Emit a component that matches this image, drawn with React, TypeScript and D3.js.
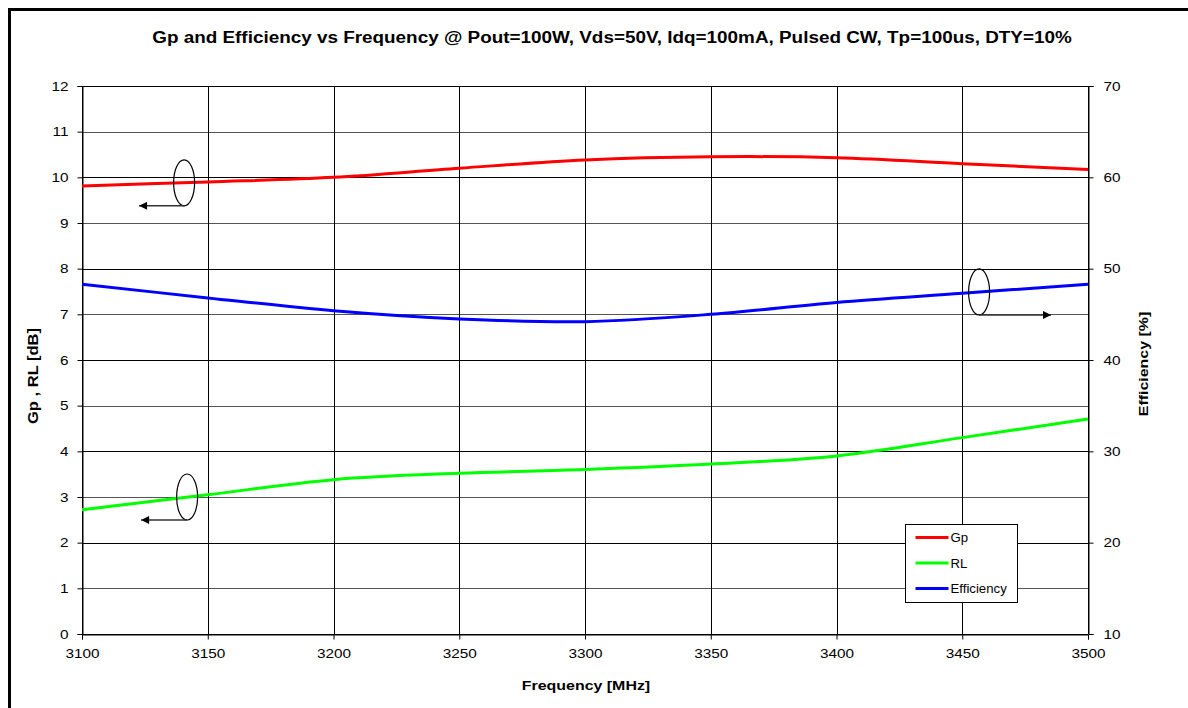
import React, { useEffect, useRef } from "react";
import * as d3 from "d3";

const freqs = [3100, 3150, 3200, 3250, 3300, 3350, 3400, 3450, 3500];
const gpValues = [9.81, 9.9, 10.0, 10.2, 10.38, 10.45, 10.43, 10.3, 10.17];
const rlValues = [2.72, 3.05, 3.38, 3.52, 3.6, 3.72, 3.9, 4.3, 4.71];
const effValues = [48.3, 46.8, 45.4, 44.5, 44.2, 45.0, 46.3, 47.3, 48.3];

const xTicks = [3100, 3150, 3200, 3250, 3300, 3350, 3400, 3450, 3500];
const leftTicks = [0, 1, 2, 3, 4, 5, 6, 7, 8, 9, 10, 11, 12];
const rightTicks = [10, 20, 30, 40, 50, 60, 70];

const legendItems = [
  { name: "Gp", color: "#ff0000" },
  { name: "RL", color: "#00ff00" },
  { name: "Efficiency", color: "#0000ff" },
];

// ellipse markers pointing to the axis each curve uses
const markers = [
  { f: 3140.6, v: 9.88, axis: "left", tip: 3122.7 },
  { f: 3141.8, v: 3.0, axis: "left", tip: 3123.5 },
  { f: 3456.7, v: 47.45, axis: "right", tip: 3485.3 },
];

const W = 1188;
const H = 708;
const FONT = "'Liberation Sans', Arial, sans-serif";
const STRETCH = 1.18; // the source image text is wider than plain Arial

export default function App() {
  const ref = useRef<SVGSVGElement | null>(null);

  useEffect(() => {
    if (!ref.current) return;
    const svg = d3.select(ref.current);
    svg.selectAll("*").remove();

    const left = 82;
    const right = 1088;
    const top = 86;
    const bottom = 634;

    const x = d3.scaleLinear().domain([3100, 3500]).range([left, right]);
    const yL = d3.scaleLinear().domain([0, 12]).range([bottom, top]);
    const yR = d3.scaleLinear().domain([10, 70]).range([bottom, top]);

    svg.append("rect").attr("width", W).attr("height", H).attr("fill", "#fff");

    // outer frame
    svg
      .append("rect")
      .attr("x", 9.5)
      .attr("y", 9.5)
      .attr("width", 1300)
      .attr("height", 800)
      .attr("fill", "none")
      .attr("stroke", "#000")
      .attr("stroke-width", 3);

    svg
      .append("text")
      .attr("x", 612)
      .attr("y", 43)
      .attr("text-anchor", "middle")
      .attr("font-family", FONT)
      .attr("font-weight", "bold")
      .attr("font-size", 16)
      .text("Gp and Efficiency vs Frequency @ Pout=100W, Vds=50V, Idq=100mA, Pulsed CW, Tp=100us, DTY=10%");

    const grid = svg.append("g").attr("shape-rendering", "crispEdges");
    leftTicks.forEach((t) => {
      grid
        .append("line")
        .attr("x1", left)
        .attr("x2", right)
        .attr("y1", Math.round(yL(t)) + 0.5)
        .attr("y2", Math.round(yL(t)) + 0.5)
        .attr("stroke", t % 2 === 0 ? "#000" : "#555")
        .attr("stroke-width", 1);
    });
    xTicks.forEach((t) => {
      grid
        .append("line")
        .attr("x1", Math.round(x(t)) + 0.5)
        .attr("x2", Math.round(x(t)) + 0.5)
        .attr("y1", top)
        .attr("y2", bottom)
        .attr("stroke", "#000")
        .attr("stroke-width", 1);
    });

    // axes
    const axL = d3.axisLeft(yL).tickValues(leftTicks).tickSize(5).tickPadding(9);
    const axR = d3.axisRight(yR).tickValues(rightTicks).tickSize(5).tickPadding(10);
    const axB = d3.axisBottom(x).tickValues(xTicks).tickSize(5).tickPadding(9).tickFormat(d3.format("d"));

    const styleAxis = (g: d3.Selection<SVGGElement, unknown, null, undefined>) => {
      g.attr("font-family", FONT).attr("font-size", 13);
      g.selectAll("path").attr("stroke", "#000");
      g.selectAll("line").attr("stroke", "#000");
      g.selectAll("text").attr("fill", "#000");
    };

    svg.append("g").attr("transform", `translate(${left + 0.5},0)`).call(axL).call(styleAxis);
    svg.append("g").attr("transform", `translate(${right + 0.5},0)`).call(axR).call(styleAxis);
    svg.append("g").attr("transform", `translate(0,${bottom + 0.5})`).call(axB).call(styleAxis);

    // axis titles
    svg
      .append("text")
      .attr("x", 586)
      .attr("y", 690)
      .attr("text-anchor", "middle")
      .attr("font-family", FONT)
      .attr("font-weight", "bold")
      .attr("font-size", 13.5)
      .text("Frequency [MHz]");
    svg
      .append("text")
      .attr("transform", `translate(38,376) rotate(-90)`)
      .attr("text-anchor", "middle")
      .attr("font-family", FONT)
      .attr("font-weight", "bold")
      .attr("font-size", 14)
      .text("Gp , RL [dB]");
    svg
      .append("text")
      .attr("transform", `translate(1148,364) rotate(-90)`)
      .attr("text-anchor", "middle")
      .attr("font-family", FONT)
      .attr("font-weight", "bold")
      .attr("font-size", 13.5)
      .text("Efficiency [%]");

    // curves
    const mk = (vals: number[], y: d3.ScaleLinear<number, number>) =>
      d3
        .line<number>()
        .x((_, i) => x(freqs[i]))
        .y((d) => y(d))
        .curve(d3.curveCatmullRom.alpha(0.5))(vals);

    const series = [
      { vals: gpValues, y: yL, color: "#ff0000" },
      { vals: rlValues, y: yL, color: "#00ff00" },
      { vals: effValues, y: yR, color: "#0000ff" },
    ];
    series.forEach((s) => {
      svg
        .append("path")
        .attr("d", mk(s.vals, s.y))
        .attr("fill", "none")
        .attr("stroke", s.color)
        .attr("stroke-width", 3);
    });

    // markers
    const defs = svg.append("defs");
    defs
      .append("marker")
      .attr("id", "arr")
      .attr("viewBox", "0 0 10 10")
      .attr("refX", 10)
      .attr("refY", 5)
      .attr("markerWidth", 10)
      .attr("markerHeight", 8)
      .attr("markerUnits", "userSpaceOnUse")
      .attr("orient", "auto")
      .append("path")
      .attr("d", "M0,0 L10,5 L0,10 Z")
      .attr("fill", "#000");

    markers.forEach((m) => {
      const y = m.axis === "left" ? yL : yR;
      const cx = x(m.f);
      const cy = y(m.v);
      const ry = 23;
      svg
        .append("ellipse")
        .attr("cx", cx)
        .attr("cy", cy)
        .attr("rx", 10.5)
        .attr("ry", ry)
        .attr("fill", "none")
        .attr("stroke", "#000")
        .attr("stroke-width", 1.2);
      svg
        .append("line")
        .attr("x1", cx)
        .attr("x2", x(m.tip))
        .attr("y1", cy + ry)
        .attr("y2", cy + ry)
        .attr("stroke", "#333")
        .attr("stroke-width", 1.5)
        .attr("marker-end", "url(#arr)");
    });

    // legend
    const lg = svg.append("g").attr("transform", "translate(905.5,524.5)");
    lg.append("rect")
      .attr("width", 112)
      .attr("height", 78)
      .attr("fill", "#fff")
      .attr("stroke", "#000")
      .attr("stroke-width", 1);
    legendItems.forEach((it, i) => {
      const yy = 13 + i * 25.5;
      lg.append("line")
        .attr("x1", 10)
        .attr("x2", 43)
        .attr("y1", yy)
        .attr("y2", yy)
        .attr("stroke", it.color)
        .attr("stroke-width", 3);
      lg.append("text")
        .attr("x", 45)
        .attr("y", yy + 4.5)
        .attr("data-k", 1.1)
        .attr("font-family", FONT)
        .attr("font-size", 12)
        .text(it.name);
    });

    // widen every text run to match the source
    svg.selectAll<SVGTextElement, unknown>("text").each(function () {
      const k = +(this.getAttribute("data-k") || STRETCH);
      const len = this.getComputedTextLength();
      if (len > 0) {
        this.setAttribute("textLength", String(len * k));
        this.setAttribute("lengthAdjust", "spacingAndGlyphs");
      }
    });
  }, []);

  return (
    <svg
      ref={ref}
      width={W}
      height={H}
      style={{ position: "absolute", left: 0, top: 0, display: "block" }}
    />
  );
}
